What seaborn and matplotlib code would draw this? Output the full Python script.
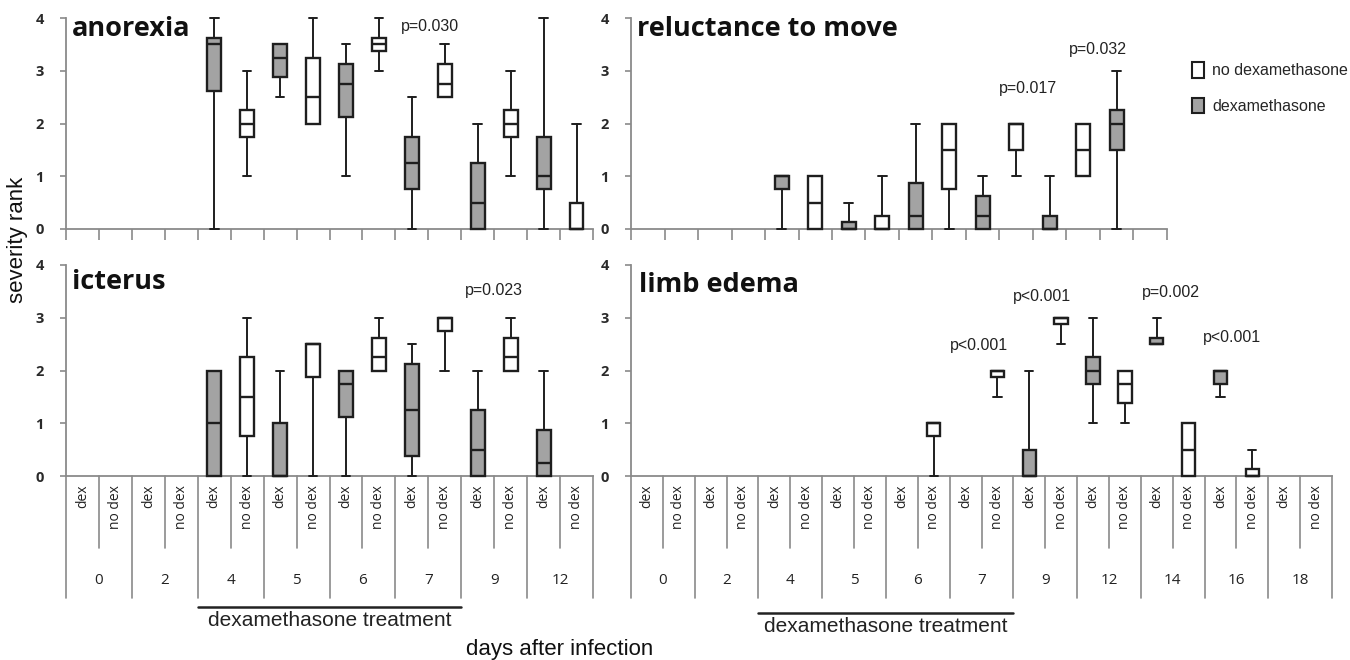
import numpy as np
import matplotlib
matplotlib.use("Agg")
import matplotlib.pyplot as plt
from matplotlib.patches import Patch
import seaborn as sns

sns.set_style("white")
plt.rcParams["font.family"] = ["Liberation Sans", "DejaVu Sans"]

# days after infection
days_short = ["0", "2", "4", "5", "6", "7", "9", "12"]
days_long = ["0", "2", "4", "5", "6", "7", "9", "12", "14", "16", "18"]

# (whisker low, q1, median, q3, whisker high) per day, None = no box
anorexia_dex = [None, None, (0, 2.625, 3.5, 3.625, 4), (2.5, 2.875, 3.25, 3.5, 3.5),
                (1, 2.125, 2.75, 3.125, 3.5), (0, 0.75, 1.25, 1.75, 2.5),
                (0, 0, 0.5, 1.25, 2), (0, 0.75, 1, 1.75, 4)]
anorexia_nodex = [None, None, (1, 1.75, 2, 2.25, 3), (2, 2, 2.5, 3.25, 4),
                  (3, 3.375, 3.5, 3.625, 4), (2.5, 2.5, 2.75, 3.125, 3.5),
                  (1, 1.75, 2, 2.25, 3), (0, 0, 0, 0.5, 2)]

reluct_dex = [None, None, (0, 0.75, 1, 1, 1), (0, 0, 0, 0.125, 0.5),
              (0, 0, 0.25, 0.875, 2), (0, 0, 0.25, 0.625, 1),
              (0, 0, 0, 0.25, 1), (0, 1.5, 2, 2.25, 3)]
reluct_nodex = [None, None, (0, 0, 0.5, 1, 1), (0, 0, 0, 0.25, 1),
                (0, 0.75, 1.5, 2, 2), (1, 1.5, 2, 2, 2),
                (1, 1, 1.5, 2, 2), None]

icterus_dex = [None, None, (0, 0, 1, 2, 2), (0, 0, 0, 1, 2),
               (0, 1.125, 1.75, 2, 2), (0, 0.375, 1.25, 2.125, 2.5),
               (0, 0, 0.5, 1.25, 2), (0, 0, 0.25, 0.875, 2)]
icterus_nodex = [None, None, (0, 0.75, 1.5, 2.25, 3), (0, 1.875, 2.5, 2.5, 2.5),
                 (2, 2, 2.25, 2.625, 3), (2, 2.75, 3, 3, 3),
                 (2, 2, 2.25, 2.625, 3), None]

edema_dex = [None, None, None, None, None, None, (0, 0, 0, 0.5, 2),
             (1, 1.75, 2, 2.25, 3), (2.5, 2.5, 2.5, 2.625, 3),
             (1.5, 1.75, 2, 2, 2), None]
edema_nodex = [None, None, None, None, (0, 0.75, 1, 1, 1), (1.5, 1.875, 2, 2, 2),
               (2.5, 2.875, 3, 3, 3), (1, 1.375, 1.75, 2, 2), (0, 0, 0.5, 1, 1),
               (0, 0, 0, 0.125, 0.5), None]

# p-value labels: (text, category position, y)
anorexia_p = [("p=0.030", 10.55, 3.83)]
reluct_p = [("p=0.017", 11.35, 2.66), ("p=0.032", 13.43, 3.41)]
icterus_p = [("p=0.023", 12.5, 3.52)]
edema_p = [("p<0.001", 10.43, 2.47), ("p<0.001", 12.4, 3.4),
           ("p=0.002", 16.43, 3.47), ("p<0.001", 18.36, 2.62)]

GREY = "#a3a3a3"
EDGE = "#1e1e1e"
AXC = "#8a8a8a"
W, H = 1350, 660

fig = plt.figure(figsize=(13.5, 6.6), dpi=100)


def px_axes(x0, y0, x1, y1):
    return fig.add_axes([x0 / W, 1 - y1 / H, (x1 - x0) / W, (y1 - y0) / H])


def draw_panel(ax, days, dex, nodex, title, title_y, pvals, bottom, h_px,
               treat_line=None, treat_text=None):
    n = 2 * len(days)
    stats, pos, cols = [], [], []
    for i in range(len(days)):
        for j, (grp, col) in enumerate([(dex, GREY), (nodex, "white")]):
            s = grp[i]
            if s is None:
                continue
            lo, q1, med, q3, hi = s
            stats.append(dict(whislo=lo, q1=q1, med=med, q3=q3, whishi=hi, fliers=[]))
            pos.append(2 * i + j)
            cols.append(col)
    bp = ax.bxp(stats, positions=pos, widths=0.42, capwidths=0.26, patch_artist=True,
                showfliers=False, manage_ticks=False,
                boxprops=dict(edgecolor=EDGE, linewidth=1.7),
                medianprops=dict(color=EDGE, linewidth=1.7),
                whiskerprops=dict(color=EDGE, linewidth=1.4),
                capprops=dict(color=EDGE, linewidth=1.4))
    for patch, c in zip(bp["boxes"], cols):
        patch.set_facecolor(c)
    for key in ["boxes", "medians", "whiskers", "caps"]:
        for art in bp[key]:
            art.set_clip_on(False)
            art.set_zorder(3)

    ax.set_xlim(-0.5, n - 0.5)
    ax.set_ylim(0, 4)
    ax.set_yticks([0, 1, 2, 3, 4])
    ax.set_yticklabels(["0", "1", "2", "3", "4"], fontfamily="Open Sans",
                       fontweight="bold", fontsize=10.5, color="#2a2a2a")
    ax.set_xticks(np.arange(-0.5, n, 1))
    ax.set_xticklabels([])
    sns.despine(ax=ax)
    for side in ["left", "bottom"]:
        ax.spines[side].set_color(AXC)
        ax.spines[side].set_linewidth(1.3)
    ax.tick_params(axis="y", left=True, length=4, color=AXC, width=1.2, pad=12)
    if bottom:
        ax.tick_params(axis="x", bottom=False)
    else:
        ax.tick_params(axis="x", bottom=True, length=8, color=AXC, width=1.2)

    ax.text(0.012, title_y, title, transform=ax.transAxes, fontfamily="Open Sans",
            fontweight="bold", fontsize=19.5, va="center", ha="left", color="#111111")
    for txt, x, y in pvals:
        ax.text(x, y, txt, fontsize=11.5, ha="center", va="center", color="#222222")

    if bottom:
        trans = ax.get_xaxis_transform()
        for k in range(n + 1):
            L = 122 if k % 2 == 0 else 72
            ax.plot([k - 0.5, k - 0.5], [0, -L / h_px], transform=trans, color=AXC,
                    lw=1.2, clip_on=False)
        for i, d in enumerate(days):
            ax.text(2 * i, -9 / h_px, "dex", rotation=90, ha="center", va="top",
                    transform=trans, fontfamily="Open Sans", fontsize=10, color="#222222")
            ax.text(2 * i + 1, -9 / h_px, "no dex", rotation=90, ha="center", va="top",
                    transform=trans, fontfamily="Open Sans", fontsize=10, color="#222222")
            ax.text(2 * i + 0.5, -104 / h_px, d, ha="center", va="center",
                    transform=trans, fontfamily="Open Sans", fontsize=11, color="#222222")
        ax.plot([3.5, 11.5], [-treat_line / h_px] * 2, transform=trans, color="#222222",
                lw=1.8, clip_on=False)
        ax.text(7.5, -treat_text / h_px, "dexamethasone treatment", transform=trans,
                ha="center", va="center", fontsize=15, color="#222222")


ax_tl = px_axes(66, 18, 593, 229)
ax_tr = px_axes(631, 18, 1167, 229)
ax_bl = px_axes(66, 265, 593, 476)
ax_br = px_axes(631, 265, 1332, 476)

draw_panel(ax_tl, days_short, anorexia_dex, anorexia_nodex, "anorexia", 0.95,
           anorexia_p, False, 211)
draw_panel(ax_tr, days_short, reluct_dex, reluct_nodex, "reluctance to move", 0.95,
           reluct_p, False, 211)
draw_panel(ax_bl, days_short, icterus_dex, icterus_nodex, "icterus", 0.92,
           icterus_p, True, 211, treat_line=131, treat_text=144)
draw_panel(ax_br, days_long, edema_dex, edema_nodex, "limb edema", 0.905,
           edema_p, True, 211, treat_line=137, treat_text=150)

handles = [Patch(facecolor="white", edgecolor=EDGE, linewidth=1.5, label="no dexamethasone"),
           Patch(facecolor=GREY, edgecolor=EDGE, linewidth=1.5, label="dexamethasone")]
fig.legend(handles=handles, loc="upper left", bbox_to_anchor=(1178 / W, 1 - 48 / H),
           frameon=False, fontsize=11.5, handlelength=0.75, handleheight=1.1,
           handletextpad=0.5, labelspacing=1.2)

fig.text(18 / W, 1 - 240 / H, "severity rank", rotation=90, ha="center", va="center",
         fontsize=16, color="#111111")
fig.text(560 / W, 1 - 650 / H, "days after infection", ha="center", va="center",
         fontsize=16, color="#111111")

fig.savefig("out.png", dpi=100, facecolor="white")
